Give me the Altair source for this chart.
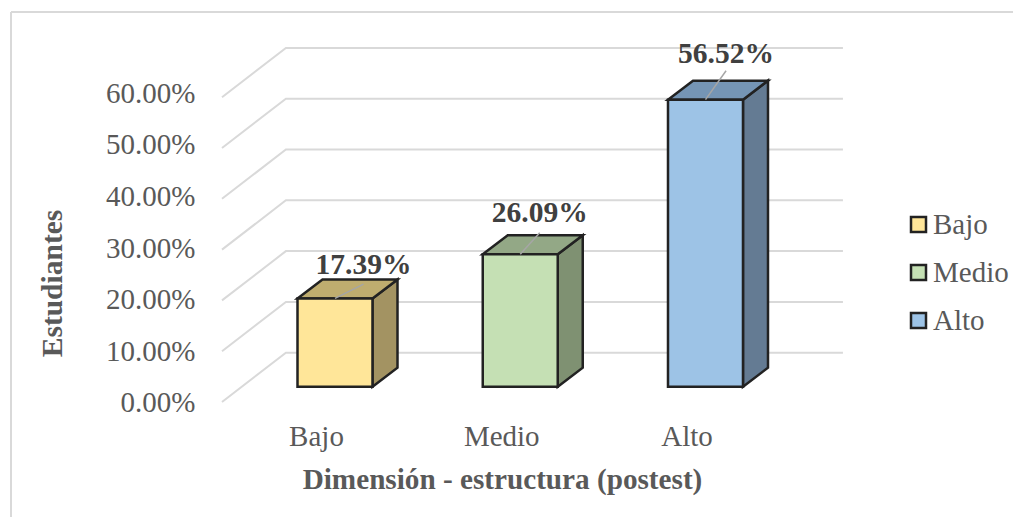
import json
import altair as alt
import pandas as pd

categories = ["Bajo", "Medio", "Alto"]
values = [17.39, 26.09, 56.52]
labels = ["17.39%", "26.09%", "56.52%"]
front_colors = ["#FFE699", "#C5E0B4", "#9DC3E6"]
side_colors = ["#A39362", "#7F9172", "#647B93"]
top_colors = ["#BFAD6F", "#93A886", "#7595B5"]
label_dx = [0.154, 0.105, 0.111]
label_y = [26.97, 37.2, 68.5]
leader_y = [23.2, 33.3, 65.2]
ticks = [0, 10, 20, 30, 40, 50, 60]

half_bar = 0.2024
depth_x = 0.135
depth_y = 3.74
floor = 3.0
wall_front = -0.61
wall_back = -0.265
wall_right = 2.742
wall_rise = 9.7

W, H = 1002, 505
x_scale = alt.Scale(domain=[-1.749, 3.660], nice=False, zero=False)
y_scale = alt.Scale(domain=[-22.64, 76.77], nice=False, zero=False)
FONT = "Liberation Serif"
EDGE = "#222222"
GREY = "#595959"

grid_rows = []
for t in ticks:
    grid_rows += [
        {"tick": t, "x": wall_front, "y": t},
        {"tick": t, "x": wall_back, "y": t + wall_rise},
        {"tick": t, "x": wall_right, "y": t + wall_rise},
    ]
grid_df = pd.DataFrame(grid_rows)

front_rows, side_rows, top_rows, leader_rows, label_rows = [], [], [], [], []
for i, (c, v) in enumerate(zip(categories, values)):
    lo, hi, up = i - half_bar, i + half_bar, floor + v
    front_rows.append({"cat": c, "x": lo, "x2": hi, "y": floor, "y2": up})
    for s in (0, 1):
        side_rows.append({"cat": c, "fill": side_colors[i], "x": hi + s * depth_x,
                          "y": floor + s * depth_y, "y2": up + s * depth_y})
        top_rows.append({"cat": c, "fill": top_colors[i], "x": lo + s * depth_x,
                         "x2": hi + s * depth_x, "y": up + s * depth_y})
    leader_rows += [{"cat": c, "x": i, "y": up},
                    {"cat": c, "x": i + label_dx[i], "y": leader_y[i]}]
    label_rows.append({"label": labels[i], "x": i + label_dx[i], "y": label_y[i]})

front_df = pd.DataFrame(front_rows)
side_df = pd.DataFrame(side_rows)
top_df = pd.DataFrame(top_rows)
leader_df = pd.DataFrame(leader_rows)
label_df = pd.DataFrame(label_rows)

x_axis = alt.Axis(
    values=[0, 1, 2], labelExpr=f"{json.dumps(categories)}[datum.value]",
    title="Dimensión - estructura (postest)", domain=False, ticks=False, grid=False,
    offset=-95, labelPadding=0, labelOffset=-19, labelFont=FONT, labelFontSize=29,
    labelColor=GREY, labelBound=False, labelFlush=False, labelOverlap=False,
    titleFont=FONT, titleFontSize=29.2, titleFontWeight="bold", titleColor=GREY,
    titleX=491, titleY=57, titleBaseline="middle", titleAnchor="middle",
)
y_axis = alt.Axis(
    values=ticks, labelExpr="format(datum.value, '.2f') + '%'",
    title="Estudiantes", domain=False, ticks=False, grid=False,
    offset=-184, labelPadding=0, labelOffset=alt.expr("1 - 5 * datum.value / 60"),
    labelFont=FONT, labelFontSize=29,
    labelColor=GREY, labelBound=False, labelFlush=False, labelOverlap=False,
    titleFont=FONT, titleFontSize=29.5, titleFontWeight="bold", titleColor=GREY,
    titleX=-143, titleY=271, titleAngle=270, titleBaseline="middle",
)
X = alt.X("x:Q", scale=x_scale, axis=x_axis, stack=None)
Y = alt.Y("y:Q", scale=y_scale, axis=y_axis, stack=None)

border_left = alt.Chart(front_df).mark_rule(color="#d9d9d9", strokeWidth=2).encode(
    x=alt.value(0), y=alt.value(0), y2=alt.value(H))
border_top = alt.Chart(front_df).mark_rule(color="#d9d9d9", strokeWidth=2).encode(
    y=alt.value(0), x=alt.value(0), x2=alt.value(W))

grid = alt.Chart(grid_df).mark_line(color="#d9d9d9", strokeWidth=2).encode(
    x=X, y=Y, detail="tick:N",
)
side = alt.Chart(side_df).mark_area(stroke=EDGE, strokeWidth=2.5).encode(
    x=X, y=Y, y2="y2:Q",
    fill=alt.Fill("fill:N", scale=None),
    detail="cat:N",
)
top = alt.Chart(top_df).mark_area(orient="horizontal", stroke=EDGE, strokeWidth=2.5).encode(
    x=X, x2="x2:Q", y=Y,
    fill=alt.Fill("fill:N", scale=None),
    detail="cat:N",
)
front = alt.Chart(front_df).mark_rect(stroke=EDGE, strokeWidth=2.5).encode(
    x=X, x2="x2:Q", y=Y, y2="y2:Q",
    fill=alt.Fill(
        "cat:N",
        scale=alt.Scale(domain=categories, range=front_colors),
        sort=categories,
        legend=alt.Legend(
            title=None, orient="none", legendX=893, legendY=198,
            symbolType="square", symbolSize=225, symbolStrokeColor=EDGE,
            symbolStrokeWidth=2.5, labelFont=FONT, labelFontSize=29,
            labelColor=GREY, rowPadding=18, labelOffset=0,
        ),
    ),
)
leader = alt.Chart(leader_df).mark_line(color="#a6a6a6", strokeWidth=1.5).encode(
    x=X, y=Y, detail="cat:N",
)
text = alt.Chart(label_df).mark_text(
    font=FONT, fontSize=29.5, fontWeight="bold", color="#404040",
    align="center", baseline="middle",
).encode(
    x=X, y=Y, text="label:N",
)

chart = (
    alt.layer(grid, side, top, front, leader, text, border_left, border_top)
    .resolve_scale(fill="independent")
    .properties(
        width=W, height=H, background="white",
        padding={"left": 3, "top": 4, "right": 0, "bottom": 0},
        autosize=alt.AutoSizeParams(type="none"),
    )
    .configure_view(stroke=None)
)
chart.save("out.html", embed_options={"renderer": "svg", "actions": False})
